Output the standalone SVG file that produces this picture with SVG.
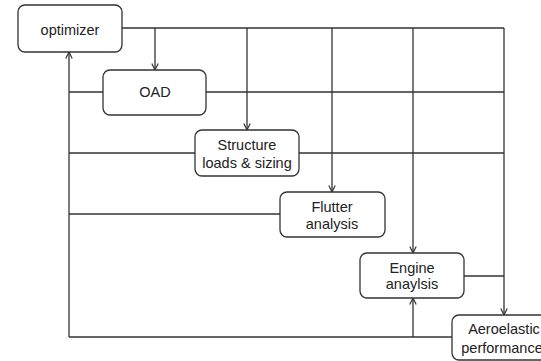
<svg xmlns="http://www.w3.org/2000/svg" width="541" height="361" viewBox="0 0 541 361">
<style>
.box{fill:#fff;stroke:#333;stroke-width:1.3}
.ln{fill:none;stroke:#333;stroke-width:1.3}
.ar{marker-end:url(#arr)}
text{font-family:"Liberation Sans",Arial,sans-serif;font-size:14.5px;fill:#222;text-anchor:middle}
</style>
<defs>
<marker id="arr" viewBox="0 0 10 10" refX="9" refY="5" markerWidth="8" markerHeight="8" markerUnits="userSpaceOnUse" orient="auto">
<path d="M1,1 L9,5 L1,9" fill="none" stroke="#333" stroke-width="1.5"/>
</marker>
</defs>
<rect width="541" height="361" fill="#fff"/>
<g id="connectors">
<path class="ln" d="M122,28 H504"/>
<path class="ln ar" d="M155,28 V70"/>
<path class="ln ar" d="M247,28 V130"/>
<path class="ln ar" d="M332,28 V192"/>
<path class="ln ar" d="M413,28 V253"/>
<path class="ln ar" d="M504,28 V315"/>
<path class="ln" d="M69,92 H103 M206,92 H504"/>
<path class="ln" d="M69,153 H195 M299,153 H504"/>
<path class="ln" d="M69,214 H280"/>
<path class="ln" d="M464,276 H504"/>
<path class="ln" d="M452,337 H69"/>
<path class="ln ar" d="M69,337 V52"/>
<path class="ln ar" d="M413,337 V298"/>
</g>
<g id="optimizer">
<rect class="box" x="18" y="5" width="104" height="47" rx="7"/>
<text x="70" y="35">optimizer</text>
</g>
<g id="oad">
<rect class="box" x="103" y="70" width="103" height="45" rx="7"/>
<text x="155" y="97">OAD</text>
</g>
<g id="structure">
<rect class="box" x="195" y="130" width="104" height="46" rx="7"/>
<text x="247" y="150">Structure</text>
<text x="247" y="168">loads &amp; sizing</text>
</g>
<g id="flutter">
<rect class="box" x="280" y="192" width="105" height="45" rx="7"/>
<text x="332" y="212">Flutter</text>
<text x="332" y="229">analysis</text>
</g>
<g id="engine">
<rect class="box" x="360" y="253" width="104" height="45" rx="7"/>
<text x="412" y="273">Engine</text>
<text x="412" y="289">anaylsis</text>
</g>
<g id="aeroelastic">
<rect class="box" x="452" y="315" width="104" height="45" rx="7"/>
<text x="504" y="334">Aeroelastic</text>
<text x="502" y="353">performance</text>
</g>
</svg>
